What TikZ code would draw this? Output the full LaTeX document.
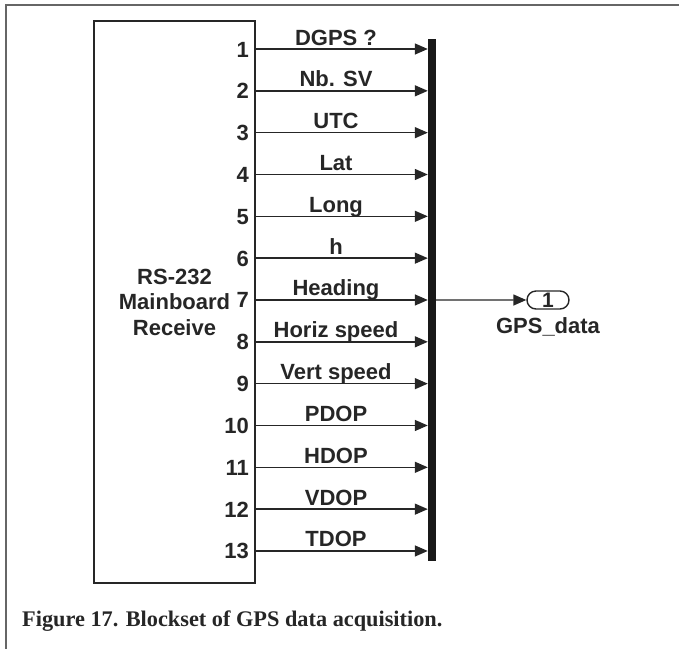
\documentclass[tikz,border=0pt]{standalone}
\usepackage{fontspec}
\setsansfont{Liberation Sans}
\newfontfamily\capfont{Liberation Serif}
\usetikzlibrary{positioning,arrows.meta}

\begin{document}
\begin{tikzpicture}[x=1pt,y=-1pt,
    sig/.style={line width=1.4pt,color=black!85,-{Triangle[length=13pt,width=11pt]}},
    num/.style={font=\sffamily\bfseries\fontsize{22}{25.5}\selectfont,text=black!85,anchor=base east,inner sep=0pt},
    lbl/.style={font=\sffamily\bfseries\fontsize{22}{25.5}\selectfont,text=black!85,anchor=base,inner sep=0pt}]
    \useasboundingbox (0,0) rectangle (679,649);
    \def\pitch{41.83}
    % cadre de la figure
    \draw [black!60,line width=1.6pt] (679,5) -- (6,5) -- (6,649);
    % bloc de reception
    \node [draw,line width=1.6pt,color=black!85,minimum width=161pt,minimum height=562pt,align=center,
           font=\sffamily\bfseries\fontsize{22}{25.5}\selectfont] (rcv) at (174.5,302) {RS-232\\Mainboard\\Receive};
    % bus
    \node [fill=black!90,inner sep=0pt,minimum width=8pt,minimum height=522pt] (bus) at (432,300) {};
    \foreach \i/\txt in {1/DGPS ?,2/Nb. SV,3/UTC,4/Lat,5/Long,6/h,7/Heading,8/Horiz speed,
                         9/Vert speed,10/PDOP,11/HDOP,12/VDOP,13/TDOP}{
        \coordinate (o\i) at (255,{49+(\i-1)*\pitch});
        \node [num] (n\i) at ([xshift=-6pt,yshift=-8pt]o\i) {\i};
        \node [lbl] (s\i) at ([xshift=81pt,yshift=4pt]o\i) {\txt};
        \draw [sig] (o\i) -- (bus.west |- o\i);
    }
    % sortie
    \node [draw,line width=1.4pt,color=black!85,rounded corners=9pt,minimum width=42pt,minimum height=18pt,
           inner sep=0pt,font=\sffamily\bfseries\fontsize{21}{25.5}\selectfont] (out) at (548,300) {1};
    \node [lbl] (gps) at (548,333) {GPS\_data};
    \draw [sig] (bus.east |- o7) -- (out.west);
    % legende
    \node [anchor=base west,inner sep=0pt,text=black!85,font=\capfont\bfseries\fontsize{22.3}{26}\selectfont] (cap) at (22,626)
          {Figure 17. Blockset of GPS data acquisition.};
\end{tikzpicture}
\end{document}
